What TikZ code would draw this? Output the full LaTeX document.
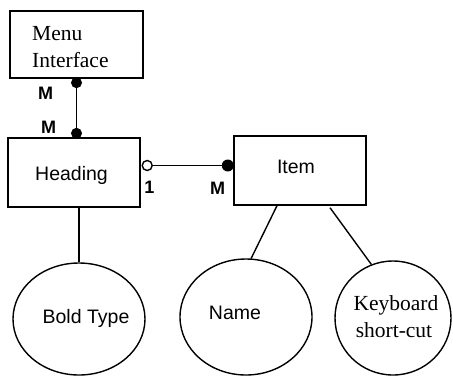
\documentclass[tikz,border=0pt]{standalone}
\usepackage{fontspec}
\setmainfont{Liberation Serif}
\setsansfont{Liberation Sans}
\usetikzlibrary{shapes.geometric,calc}
\begin{document}
\begin{tikzpicture}[x=1pt,y=1pt,
  lw/.style={line width=1.4pt},
  box/.style={draw,lw,inner sep=0pt,rectangle},
  attr/.style={draw,lw,inner sep=0pt,ellipse},
  stxt/.style={font=\fontsize{19.5}{23}\selectfont\sffamily,inner sep=0pt,anchor=base},
  rtxt/.style={font=\fontsize{21.5}{26}\selectfont\rmfamily,inner sep=0pt,anchor=base},
  card/.style={font=\fontsize{18}{21}\selectfont\sffamily\bfseries,inner sep=0pt,anchor=base},
  dot/.style={fill=black},
  odot/.style={draw,lw,fill=white}]
\useasboundingbox (0,0) rectangle (453,-376);
% boxes
\node[box,minimum width=133pt,minimum height=67pt] (menu) at (76.5,-44.5) {};
\node[box,minimum width=132pt,minimum height=69pt] (heading) at (74,-172.5) {};
\node[box,minimum width=132pt,minimum height=69pt] (item) at (300,-170.5) {};
% ellipses
\node[attr,minimum width=132pt,minimum height=112pt] (bold) at (79,-319) {};
\node[attr,minimum width=132pt,minimum height=116pt] (name) at (246,-317) {};
\node[attr,minimum width=116pt,minimum height=114pt] (key) at (393,-318) {};
% texts
\node[rtxt,anchor=base west] (menuT1) at (32,-40) {Menu};
\node[rtxt,anchor=base west] (menuT2) at (32,-67) {Interface};
\node[stxt] (headingT) at (71.5,-180) {Heading};
\node[stxt] (itemT) at (296,-173) {Item};
\node[stxt] (boldT) at (86,-323) {Bold Type};
\node[stxt] (nameT) at (235,-319) {Name};
\node[rtxt] (keyT1) at (396,-310) {Keyboard};
\node[rtxt] (keyT2) at (394,-337) {short-cut};
% cardinalities
\node[card] (c1) at (45.5,-99) {M};
\node[card] (c2) at (48.5,-133) {M};
\node[card] (c3) at (149.5,-193) {1};
\node[card] (c4) at (217.5,-194) {M};
% Menu -- Heading
\coordinate (vtop) at (menu.south);
\coordinate (vbot) at (menu.south |- heading.north);
\draw[lw] (vtop) -- (vbot);
\fill[dot] ($(vtop)+(0,-4)$) circle (5.5);
\fill[dot] ($(vbot)+(0,4)$) circle (5.5);
% Heading -- Item
\coordinate (hy) at (0,-165.5);
\coordinate (hl) at ($(heading.east |- hy)+(6.5,0)$);
\coordinate (hr) at ($(item.west |- hy)+(-5.5,0)$);
\draw[lw] (hl) -- (hr);
\draw[odot] (hl) circle (5);
\fill[dot] (hr) circle (6);
% attributes
\draw[lw] (heading.south -| bold.north) -- (bold.north);
\draw[lw] ($(item.south)+(-23,0)$) -- (name.85);
\draw[lw] ($(item.south)+(30,-2)$) -- (key.112);
\end{tikzpicture}
\end{document}
